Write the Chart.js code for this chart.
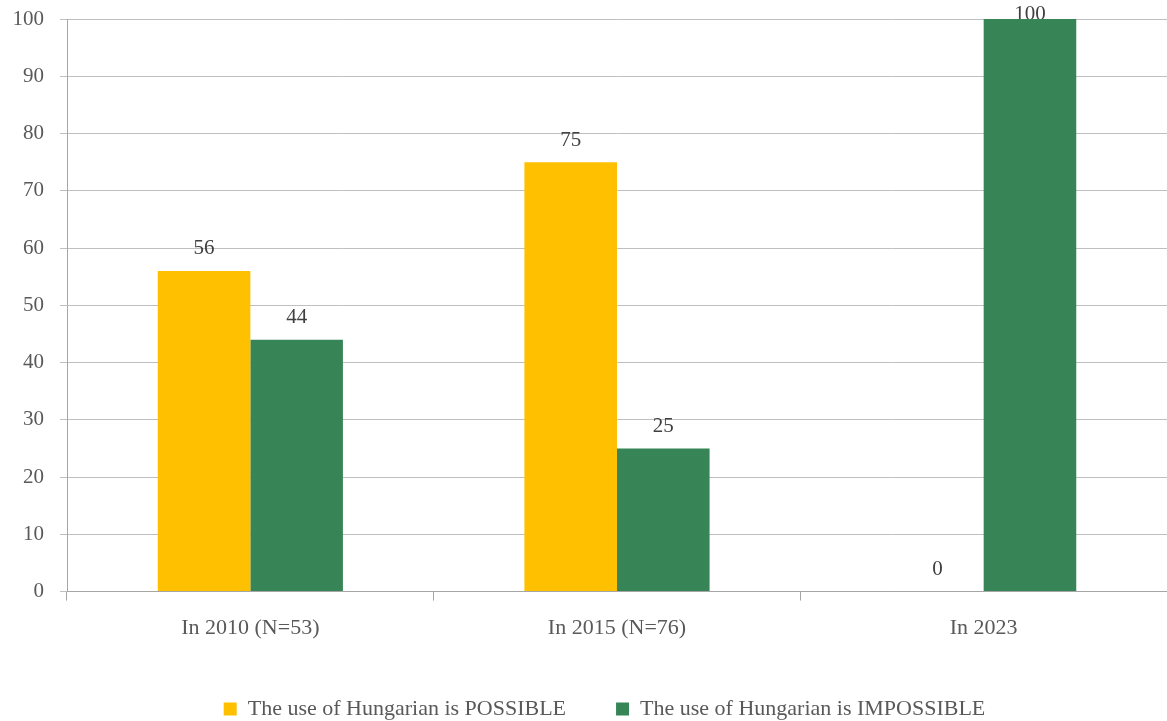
<!DOCTYPE html>
<html>
<head>
<meta charset="utf-8">
<script src="https://cdn.jsdelivr.net/npm/chart.js@4/dist/chart.umd.min.js"></script>
<style>
  html, body { margin: 0; padding: 0; background: #fff; }
  #wrap { width: 1167px; height: 721px; position: relative; }
</style>
</head>
<body>
<div id="wrap"><canvas id="myChart"></canvas></div>
<script>
const categories = ['In 2010 (N=53)', 'In 2015 (N=76)', 'In 2023'];
const possibleValues = [56, 75, 0];
const impossibleValues = [44, 25, 100];
const seriesNames = ['The use of Hungarian is POSSIBLE', 'The use of Hungarian is IMPOSSIBLE'];
const yTicks = [0, 10, 20, 30, 40, 50, 60, 70, 80, 90, 100];

const fontFamily = "'Liberation Serif', 'DejaVu Serif', serif";
const textColor = '#595959';

// value labels sit above each bar, drawn before the bars so a bar can cover them
const barValueLabels = {
    id: 'barValueLabels',
    beforeDatasetsDraw: (chart) => {
        const { ctx } = chart;
        ctx.save();
        ctx.font = `21px ${fontFamily}`;
        ctx.fillStyle = '#404040';
        ctx.textAlign = 'center';
        ctx.textBaseline = 'middle';
        chart.data.datasets.forEach((ds, i) => {
            chart.getDatasetMeta(i).data.forEach((bar, j) => {
                const y = Math.max(bar.y - 22, 14);
                ctx.fillText(ds.data[j], bar.x, y);
            });
        });
        ctx.restore();
    }
};

// nudge the legend a little right and up from where the layout puts it
const legendNudge = {
    id: 'legendNudge',
    afterLayout: (chart) => {
        const lg = chart.legend;
        lg.left += 21;
        lg.right += 21;
        lg.top -= 7;
        lg.bottom -= 7;
    }
};

const data = {
    labels: categories,
    datasets: [
        {
            label: seriesNames[0],
            data: possibleValues,
            backgroundColor: '#FFC000'
        },
        {
            label: seriesNames[1],
            data: impossibleValues,
            backgroundColor: '#378457'
        }
    ]
};

const config = {
    type: 'bar',
    data: data,
    options: {
        responsive: true,
        maintainAspectRatio: false,
        animation: false,
        layout: {
            padding: { top: 19, left: 0, right: 0, bottom: -16 }
        },
        datasets: {
            bar: {
                categoryPercentage: 0.505,
                barPercentage: 1.0,
                borderWidth: 0
            }
        },
        scales: {
            x: {
                grid: {
                    offset: true,
                    drawOnChartArea: false,
                    tickLength: 9,
                    color: '#A6A6A6'
                },
                border: { color: '#A6A6A6' },
                ticks: {
                    color: textColor,
                    font: { family: fontFamily, size: 22 },
                    padding: 14
                }
            },
            y: {
                min: 0,
                max: 100,
                afterBuildTicks: (scale) => {
                    scale.ticks = yTicks.map(v => ({ value: v }));
                },
                afterFit: (scale) => {
                    scale.width = 67;
                    scale.paddingTop = 0;
                    scale.paddingBottom = 0;
                },
                grid: {
                    color: '#BFBFBF',
                    tickLength: 7
                },
                border: { color: '#A6A6A6' },
                ticks: {
                    color: textColor,
                    font: { family: fontFamily, size: 21 },
                    padding: 16
                }
            }
        },
        plugins: {
            legend: {
                position: 'bottom',
                labels: {
                    color: textColor,
                    font: { family: fontFamily, size: 22 },
                    boxWidth: 13,
                    boxHeight: 13,
                    padding: 50
                }
            },
            tooltip: { enabled: false }
        }
    },
    plugins: [barValueLabels, legendNudge]
};

new Chart(document.getElementById('myChart'), config);
</script>
</body>
</html>
